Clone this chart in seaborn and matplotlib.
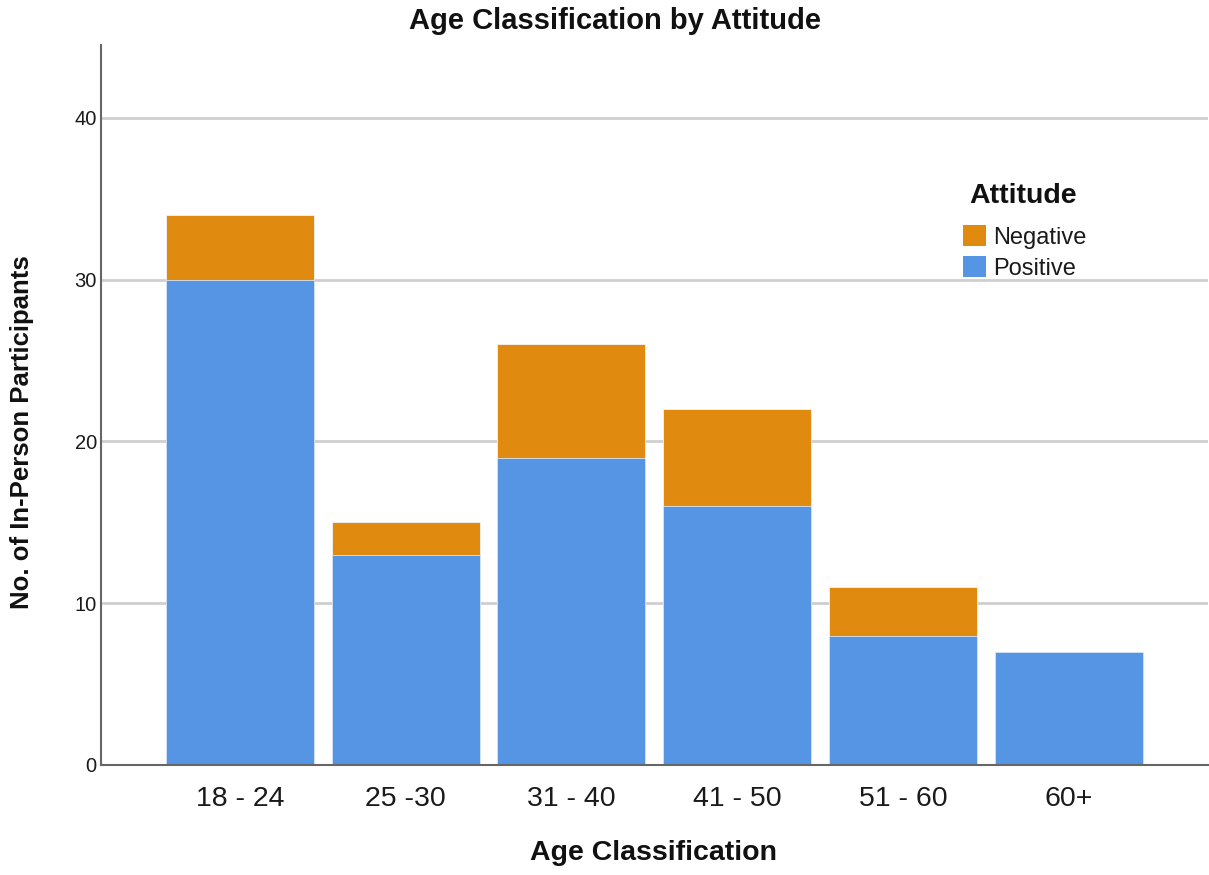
import matplotlib
matplotlib.use("Agg")
import matplotlib.pyplot as plt
from matplotlib.patches import Patch
import seaborn as sns
import pandas as pd

# Counts per age group, split by attitude
age_groups = ["18 - 24", "25 -30", "31 - 40", "41 - 50", "51 - 60", "60+"]
positive = [30, 13, 19, 16, 8, 7]
negative = [4, 2, 7, 6, 3, 0]
y_ticks = [0, 10, 20, 30, 40]

BLUE = "#5595E3"
ORANGE = "#E08A10"

sns.set_theme(style="white")
plt.rcParams["font.family"] = ["Liberation Sans", "DejaVu Sans"]

df = pd.DataFrame({
    "age": age_groups,
    "Positive": positive,
    "Negative": negative,
})
df["total"] = df["Positive"] + df["Negative"]

W, H = 1209, 875
fig = plt.figure(figsize=(W / 100, H / 100), dpi=100)
ax = fig.add_axes([101 / W, (H - 765) / H, (1208 - 101) / W, (765 - 45) / H])

# Stacked bars: total in orange, positive share drawn on top in blue
sns.barplot(data=df, x="age", y="total", color=ORANGE, saturation=1,
            width=0.893, ax=ax, zorder=2, edgecolor="#f3f3f3", linewidth=0.6)
sns.barplot(data=df, x="age", y="Positive", color=BLUE, saturation=1,
            width=0.893, ax=ax, zorder=3, edgecolor="#d8e6f7", linewidth=0.6)

ax.set_xlim(-0.838, 5.84)
ax.set_ylim(0, 44.5)
ax.set_yticks(y_ticks)
ax.set_yticklabels([str(t) for t in y_ticks], fontsize=14.5)
ax.tick_params(axis="y", length=0, pad=3, colors="#1a1a1a")
ax.tick_params(axis="x", length=0, pad=15, labelsize=20.5, colors="#1a1a1a")
ax.set_xlabel("")
ax.set_ylabel("")

ax.yaxis.grid(True, color="#cfcfcf", linewidth=2, zorder=0)
ax.set_axisbelow(True)
for side in ["top", "right"]:
    ax.spines[side].set_visible(False)
for side in ["left", "bottom"]:
    ax.spines[side].set_color("#666666")
    ax.spines[side].set_linewidth(1.5)
    ax.spines[side].set_zorder(4)

fig.text(615 / W, 1 - 29 / H, "Age Classification by Attitude",
         ha="center", va="baseline", fontsize=21, fontweight="bold",
         color="#111111")
fig.text(654 / W, 1 - 860 / H, "Age Classification", ha="center",
         va="baseline", fontsize=20.5, fontweight="bold", color="#111111")
fig.text(22 / W, 1 - 432 / H, "No. of In-Person Participants",
         rotation=90, ha="center", va="center", fontsize=18.5,
         fontweight="bold", color="#111111")

# Legend: bold heading above the two colour keys
fig.text(1023 / W, 1 - 203 / H, "Attitude", ha="center", va="baseline",
         fontsize=20.5, fontweight="bold", color="#111111")
handles = [Patch(facecolor=ORANGE, edgecolor="none", label="Negative"),
           Patch(facecolor=BLUE, edgecolor="none", label="Positive")]
fig.legend(handles=handles, loc="upper left",
           bbox_to_anchor=(963 / W, 1 - 225 / H), frameon=False,
           fontsize=17, labelcolor="#1a1a1a",
           handlelength=0.98, handleheight=0.98, handletextpad=0.3,
           labelspacing=0.33, borderpad=0, borderaxespad=0)

fig.savefig("out.png", dpi=100, facecolor="white")
